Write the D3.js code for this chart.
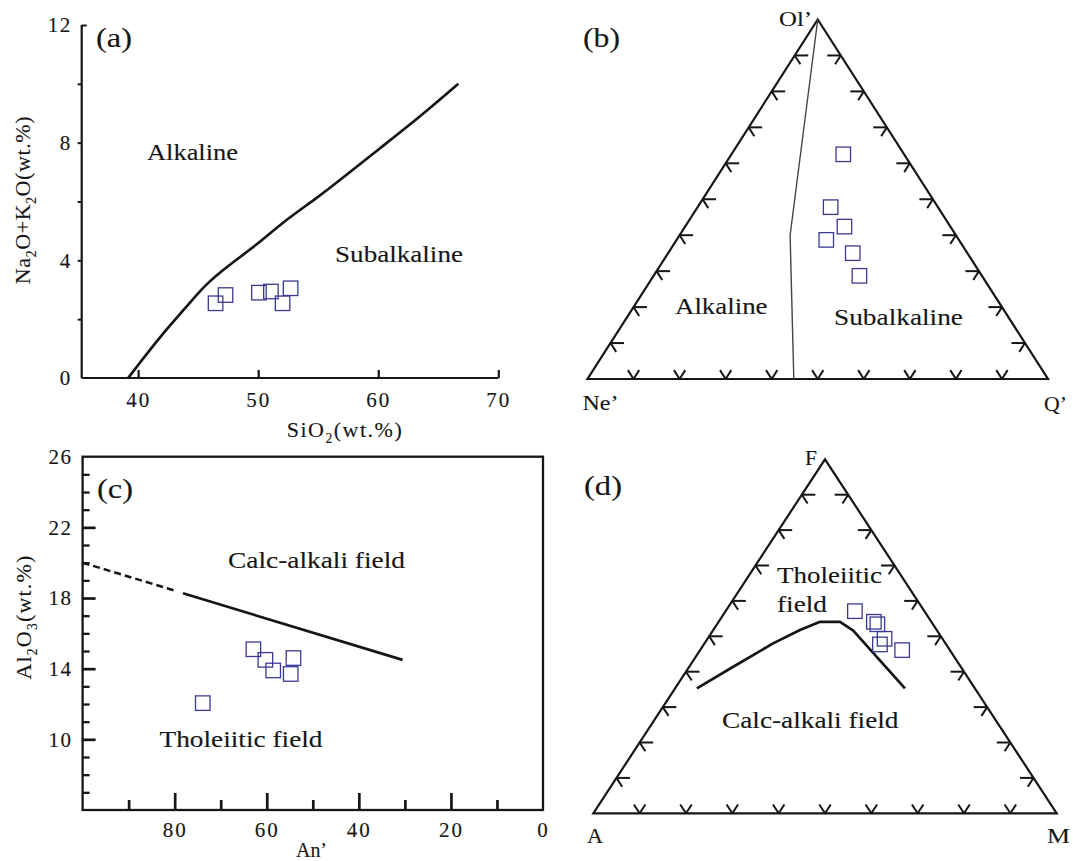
<!DOCTYPE html>
<html><head><meta charset="utf-8">
<script src="https://cdn.jsdelivr.net/npm/d3@7"></script>
<style>
body{margin:0;background:#fff}
svg{display:block}
</style></head>
<body>
<svg id="chart" width="1073" height="861"></svg>
<script>
// ---------------- DATA ----------------
// (a) TAS-type diagram
const aSiO2 = [46.45, 47.28, 50.06, 51.06, 52.03, 52.7];
const aAlk  = [2.54, 2.82, 2.90, 2.94, 2.54, 3.05];
const aLineSiO2 = [39.17, 40, 41.81, 44.03, 45.56, 47.37, 49.87, 52.08, 54.87, 56.81, 60.14, 63.48, 66.67];
const aLineAlk  = [0, 0.44, 1.40, 2.42, 3.16, 3.78, 4.52, 5.31, 6.11, 6.73, 7.81, 8.88, 10.0];
const aXTicks = [40, 50, 60, 70];
const aYLabels = [0, 4, 8, 12];
const aYTicks = [2, 4, 6, 8, 10];

// (b) Ne'-Ol'-Q' ternary (percent)
const bNe = [13.2, 23.3, 23.0, 28.8, 24.9, 26.6];
const bOl = [62.5, 47.8, 42.4, 38.7, 35.0, 28.7];
const bQ  = [24.3, 28.9, 34.6, 32.5, 40.1, 44.7];
const bDivNe = [0, 36.0, 55.2];
const bDivOl = [100, 40.0, 0];
const bDivQ  = [0, 24.0, 44.8];

// (c) Al2O3 vs An'
const cAn = [62.9, 60.3, 58.6, 54.2, 54.8, 73.9];
const cAl = [15.1, 14.5, 13.9, 14.6, 13.7, 12.05];
const cDashAn = [100, 80.1];
const cDashAl = [20.0, 18.43];
const cSolidAn = [78.2, 30.5];
const cSolidAl = [18.27, 14.5];
const cXMajor = [80, 60, 40, 20];
const cXMinor = [90, 70, 50, 30, 10];
const cXLabels = [80, 60, 40, 20, 0];
const cYMajor = [10, 14, 18, 22];
const cYMinor = [7, 8, 9, 11, 12, 13, 15, 16, 17, 19, 20, 21, 23, 24, 25];
const cYLabels = [10, 14, 18, 22, 26];

// (d) AFM ternary (percent)
const dA = [15.0, 12.4, 12.0, 12.5, 14.3, 10.3];
const dF = [57.1, 54.1, 53.4, 49.3, 47.7, 46.1];
const dM = [27.9, 33.5, 34.6, 38.2, 38.0, 43.6];
const dLineA = [60.0, 49.1, 37.2, 29.5, 24.0, 19.7, 18.1, 15.1];
const dLineF = [35.3, 41.4, 48.0, 51.8, 54.1, 54.1, 51.6, 35.3];
const dLineM = [4.7, 9.5, 14.8, 18.7, 21.9, 26.2, 30.3, 49.6];

const ternTicks = [10, 20, 30, 40, 50, 60, 70, 80, 90];

// ---------------- STYLE ----------------
const FONT = '"Liberation Serif","Times New Roman",serif';
const INK = "#161616";
const SQ_COLOR = "#3a3a94";
const SQ = 14.5;
const TSTROKE = 0.12;

const svg = d3.select("#chart");

function txt(g, x, y, str, size, opt = {}) {
  const t = g.append("text").attr("x", x).attr("y", y)
    .attr("font-family", FONT).attr("font-size", size).attr("fill", INK)
    .attr("stroke", INK).attr("stroke-width", TSTROKE)
    .text(str);
  if (opt.len) t.attr("textLength", opt.len).attr("lengthAdjust", "spacingAndGlyphs");
  if (opt.anchor) t.attr("text-anchor", opt.anchor);
  if (opt.ls) t.attr("letter-spacing", opt.ls);
  return t;
}
// text with subscripts: parts = [[str, isSub], ...]
function subText(g, parts, size, transform, anchor, ls) {
  const t = g.append("text").attr("transform", transform)
    .attr("font-family", FONT).attr("font-size", size).attr("fill", INK)
    .attr("stroke", INK).attr("stroke-width", TSTROKE)
    .attr("text-anchor", anchor || "middle");
  if (ls) t.attr("letter-spacing", ls);
  let shifted = false;
  parts.forEach(([s, sub]) => {
    const sp = t.append("tspan").text(s);
    if (sub && !shifted) { sp.attr("dy", size * 0.25).attr("font-size", size * 0.62); shifted = true; }
    else if (!sub && shifted) { sp.attr("dy", -size * 0.25); shifted = false; }
  });
  return t;
}
function squares(g, pts) {
  g.selectAll(null).data(pts).join("rect")
    .attr("x", d => d[0] - SQ / 2).attr("y", d => d[1] - SQ / 2)
    .attr("width", SQ).attr("height", SQ)
    .attr("fill", "none").attr("stroke", SQ_COLOR).attr("stroke-width", 1.3);
}
function styleAxis(g, size, sw) {
  g.select(".domain").remove();
  g.attr("font-family", FONT).attr("font-size", size || 21);
  g.selectAll("line").attr("stroke", INK).attr("stroke-width", sw || 2);
  g.selectAll("text").attr("fill", INK).attr("stroke", INK).attr("stroke-width", TSTROKE);
}

// ---------------- PANEL (a) ----------------
{
  const g = svg.append("g");
  const x = d3.scaleLinear().domain([35.3, 70]).range([81.7, 498.3]);
  const y = d3.scaleLinear().domain([0, 12]).range([378, 25]);

  g.append("line").attr("x1", x(35.3)).attr("x2", x(70)).attr("y1", y(0)).attr("y2", y(0))
    .attr("stroke", INK).attr("stroke-width", 2.2);
  g.append("line").attr("x1", x(35.3)).attr("x2", x(35.3)).attr("y1", y(0)).attr("y2", y(12))
    .attr("stroke", INK).attr("stroke-width", 2.2);

  g.append("g").attr("transform", `translate(0,${y(0)})`)
    .call(d3.axisTop(x).tickValues(aXTicks).tickSize(8).tickSizeOuter(0).tickFormat(""))
    .call(a => styleAxis(a, 21, 2.2));
  g.append("g").attr("transform", `translate(0,${y(0)})`)
    .call(d3.axisBottom(x).tickValues(aXTicks).tickSize(0).tickPadding(14))
    .call(a => styleAxis(a, 21)).selectAll("text").attr("letter-spacing", 2);

  g.append("g").attr("transform", `translate(${x(35.3)},0)`)
    .call(d3.axisLeft(y).tickValues(aYTicks).tickSize(4).tickSizeOuter(0).tickFormat(""))
    .call(a => styleAxis(a, 21, 2));
  g.append("g").attr("transform", `translate(${x(35.3)},0)`)
    .call(d3.axisRight(y).tickValues([12]).tickSize(5).tickSizeOuter(0).tickFormat(""))
    .call(a => styleAxis(a, 21, 2));
  g.append("g").attr("transform", `translate(${x(35.3)},0)`)
    .call(d3.axisLeft(y).tickValues(aYLabels).tickSize(0).tickPadding(10))
    .call(a => styleAxis(a, 21)).selectAll("text").attr("letter-spacing", 1.5);

  const line = d3.line().x(d => x(d[0])).y(d => y(d[1])).curve(d3.curveBasis);
  g.append("path").datum(aLineSiO2.map((v, i) => [v, aLineAlk[i]]))
    .attr("d", line).attr("fill", "none").attr("stroke", INK).attr("stroke-width", 2.7);

  squares(g, aSiO2.map((v, i) => [x(v), y(aAlk[i])]));

  txt(g, 96, 47, "(a)", 28, { len: 36 });
  txt(g, 147, 160, "Alkaline", 23, { len: 91 });
  txt(g, 335, 262, "Subalkaline", 23, { len: 128 });
  subText(g, [["SiO"], ["2", 1], ["(wt.%)"]], 22, "translate(345,437)", "middle", 1.5);
  subText(g, [["Na"], ["2", 1], ["O+K"], ["2", 1], ["O(wt.%)"]], 22, "translate(30,200) rotate(-90)", "middle", 0.6);
}

// ---------------- Ternary helper ----------------
function ternary(g, cfg) {
  const tx = d3.scaleLinear().domain([0, 100]).range([cfg.xL, cfg.xR]);
  const ty = d3.scaleLinear().domain([0, 100]).range([cfg.yB, cfg.yT]);
  const proj = (r, t) => [tx(r + t / 2), ty(t)];
  const L = proj(0, 0), R = proj(100, 0), T = proj(0, 100);
  g.append("path").attr("d", d3.line()([L, R, T, L]) + "Z")
    .attr("fill", "none").attr("stroke", INK).attr("stroke-width", 2.2).attr("stroke-linejoin", "miter");
  const unit = (p, q) => { const dx = q[0] - p[0], dy = q[1] - p[1], l = Math.hypot(dx, dy); return [dx / l, dy / l]; };
  const uTR = unit(T, R), uTL = unit(T, L), uLT = unit(L, T), uRT = unit(R, T);
  const H = 13.5, D = 10.5;
  const segs = [];
  ternTicks.forEach(v => {
    const pl = proj(0, v);
    segs.push([pl, [pl[0] + H, pl[1]]], [pl, [pl[0] + D * uTR[0], pl[1] + D * uTR[1]]]);
    const pr = proj(100 - v, v);
    segs.push([pr, [pr[0] - H, pr[1]]], [pr, [pr[0] + D * uTL[0], pr[1] + D * uTL[1]]]);
    const pb = proj(v, 0);
    segs.push([pb, [pb[0] + D * uLT[0], pb[1] + D * uLT[1]]], [pb, [pb[0] + D * uRT[0], pb[1] + D * uRT[1]]]);
  });
  g.selectAll(null).data(segs).join("line")
    .attr("x1", d => d[0][0]).attr("y1", d => d[0][1])
    .attr("x2", d => d[1][0]).attr("y2", d => d[1][1])
    .attr("stroke", INK).attr("stroke-width", 2).attr("stroke-linecap", "butt");
  return proj;
}

// ---------------- PANEL (b) ----------------
{
  const g = svg.append("g");
  const proj = ternary(g, { xL: 587.5, xR: 1048, yB: 379, yT: 19.5 });
  // r = Q', t = Ol'
  g.append("path").datum(bDivQ.map((q, i) => proj(q, bDivOl[i])))
    .attr("d", d3.line()).attr("fill", "none").attr("stroke", "#444").attr("stroke-width", 1.4);
  squares(g, bQ.map((q, i) => proj(q, bOl[i])));
  txt(g, 583, 46.5, "(b)", 28, { len: 37 });
  txt(g, 779, 26, "Ol\u2019", 22, { len: 33 });
  txt(g, 582.5, 410, "Ne\u2019", 22, { len: 36 });
  txt(g, 1044, 411, "Q\u2019", 22, { len: 23 });
  txt(g, 675, 314, "Alkaline", 23, { len: 92.5 });
  txt(g, 834, 324.5, "Subalkaline", 23, { len: 129 });
}

// ---------------- PANEL (c) ----------------
{
  const g = svg.append("g");
  const x = d3.scaleLinear().domain([100, 0]).range([82.6, 543]);
  const y = d3.scaleLinear().domain([6, 26]).range([810, 456.7]);

  g.append("rect").attr("x", x(100)).attr("y", y(26)).attr("width", x(0) - x(100)).attr("height", y(6) - y(26))
    .attr("fill", "none").attr("stroke", INK).attr("stroke-width", 2.3);

  g.append("g").attr("transform", `translate(0,${y(6)})`)
    .call(d3.axisTop(x).tickValues(cXMajor).tickSize(17).tickSizeOuter(0).tickFormat(""))
    .call(a => styleAxis(a, 21, 2.7));
  g.append("g").attr("transform", `translate(0,${y(6)})`)
    .call(d3.axisTop(x).tickValues(cXMinor).tickSize(10).tickSizeOuter(0).tickFormat(""))
    .call(a => styleAxis(a, 21, 2.7));
  g.append("g").attr("transform", `translate(0,${y(6)})`)
    .call(d3.axisBottom(x).tickValues(cXLabels).tickSize(0).tickPadding(12))
    .call(a => styleAxis(a, 21)).selectAll("text").attr("letter-spacing", 2);

  g.append("g").attr("transform", `translate(${x(100)},0)`)
    .call(d3.axisRight(y).tickValues(cYMajor).tickSize(13).tickSizeOuter(0).tickFormat(""))
    .call(a => styleAxis(a, 21, 2.7));
  g.append("g").attr("transform", `translate(${x(100)},0)`)
    .call(d3.axisRight(y).tickValues(cYMinor).tickSize(7).tickSizeOuter(0).tickFormat(""))
    .call(a => styleAxis(a, 21, 2.3));
  g.append("g").attr("transform", `translate(${x(100)},0)`)
    .call(d3.axisLeft(y).tickValues(cYLabels).tickSize(0).tickPadding(10))
    .call(a => styleAxis(a, 21)).selectAll("text").attr("letter-spacing", 1.5);

  const line = d3.line().x(d => x(d[0])).y(d => y(d[1]));
  g.append("path").datum(cDashAn.map((v, i) => [v, cDashAl[i]]))
    .attr("d", line).attr("fill", "none").attr("stroke", INK).attr("stroke-width", 2.5)
    .attr("stroke-dasharray", "7,4");
  g.append("path").datum(cSolidAn.map((v, i) => [v, cSolidAl[i]]))
    .attr("d", line).attr("fill", "none").attr("stroke", INK).attr("stroke-width", 2.7);

  squares(g, cAn.map((v, i) => [x(v), y(cAl[i])]));

  txt(g, 97, 498, "(c)", 28, { len: 36 });
  txt(g, 228, 568, "Calc-alkali field", 23, { len: 177 });
  txt(g, 159.5, 746.5, "Tholeiitic field", 23, { len: 163 });
  txt(g, 296, 857, "An\u2019", 22, { len: 31 });
  subText(g, [["Al"], ["2", 1], ["O"], ["3", 1], ["(wt.%)"]], 22, "translate(31,617) rotate(-90)", "middle", 1.2);
}

// ---------------- PANEL (d) ----------------
{
  const g = svg.append("g");
  const proj = ternary(g, { xL: 593.3, xR: 1056.7, yB: 813.3, yT: 459.3 });
  // r = M, t = F
  g.append("path").datum(dLineM.map((m, i) => proj(m, dLineF[i])))
    .attr("d", d3.line()).attr("fill", "none").attr("stroke", INK).attr("stroke-width", 2.7)
    .attr("stroke-linejoin", "round");
  squares(g, dM.map((m, i) => proj(m, dF[i])));
  txt(g, 584, 495, "(d)", 28, { len: 38 });
  txt(g, 805, 465, "F", 22, { len: 12 });
  txt(g, 587, 843, "A", 22, { len: 16 });
  txt(g, 1047, 843, "M", 22, { len: 23 });
  txt(g, 777, 583, "Tholeiitic", 23, { len: 105 });
  txt(g, 777, 611.5, "field", 23, { len: 50 });
  txt(g, 722, 728, "Calc-alkali field", 23, { len: 176.5 });
}
</script>
</body></html>
